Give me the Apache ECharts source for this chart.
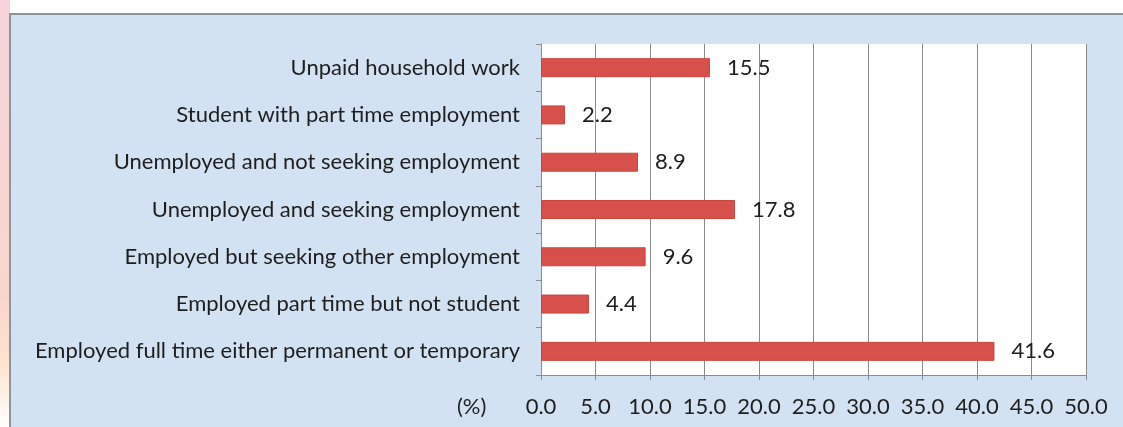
<!DOCTYPE html>
<html>
<head>
<meta charset="utf-8">
<script src="https://cdn.jsdelivr.net/npm/echarts@6/dist/echarts.min.js"></script>
<style>
  html, body { margin: 0; padding: 0; background: #ffffff; }
  #chart { width: 1123px; height: 427px; }
</style>
</head>
<body>
<div id="chart"></div>
<script>
// Employment status categories, listed top to bottom
const categories = [
  'Unpaid household work',
  'Student with part time employment',
  'Unemployed and not seeking employment',
  'Unemployed and seeking employment',
  'Employed but seeking other employment',
  'Employed part time but not student',
  'Employed full time either permanent or temporary'
];
// Share of respondents (%)
const shares = [15.5, 2.2, 8.9, 17.8, 9.6, 4.4, 41.6];
const axisUnit = '(%)';

const FONT = 'Lato, "Open Sans", sans-serif';
const SIZE = 22;
const chart = echarts.init(document.getElementById('chart'));

chart.setOption({
  backgroundColor: '#ffffff',
  animation: false,
  graphic: [
    // soft tinted strip on the far left
    {
      type: 'rect', left: 0, top: 0, z: -10, silent: true,
      shape: { width: 10, height: 427 },
      style: {
        fill: new echarts.graphic.LinearGradient(0, 0, 0, 1, [
          { offset: 0, color: '#f6d3da' },
          { offset: 0.7, color: '#f9d6cc' },
          { offset: 0.85, color: '#fde3cf' },
          { offset: 1, color: '#ffffff' }
        ])
      }
    },
    // light blue chart panel
    {
      type: 'rect', left: 9, top: 13, z: -9, silent: true,
      shape: { width: 1130, height: 430 },
      style: { fill: '#d3e2f2', stroke: '#8f949a', lineWidth: 2 }
    },
    {
      type: 'text', left: 457, top: 396, silent: true,
      style: { text: axisUnit, font: SIZE + 'px ' + FONT, fill: '#1e1e1e' }
    }
  ],
  grid: {
    left: 541, right: 37, top: 44, bottom: 52,
    show: true, backgroundColor: '#ffffff', borderWidth: 0
  },
  xAxis: {
    type: 'value', min: 0, max: 50, interval: 5,
    axisLine: { show: true, lineStyle: { color: '#8c8c8c', width: 1 } },
    axisTick: { show: true, length: 5, lineStyle: { color: '#8c8c8c' } },
    splitLine: { show: true, lineStyle: { color: '#8c8c8c', width: 1 } },
    axisLabel: {
      margin: 21, color: '#1e1e1e', fontSize: SIZE, fontFamily: FONT,
      formatter: v => v.toFixed(1)
    }
  },
  yAxis: {
    type: 'category', data: categories, inverse: true,
    axisLine: { show: true, lineStyle: { color: '#8c8c8c', width: 1 } },
    axisTick: { show: true, length: 5, lineStyle: { color: '#8c8c8c' } },
    axisLabel: { margin: 21, color: '#1e1e1e', fontSize: SIZE, fontFamily: FONT }
  },
  series: [{
    type: 'bar', data: shares, barWidth: 19,
    itemStyle: { color: '#d8504b', borderColor: '#c9463f', borderWidth: 1 },
    label: {
      show: true, position: 'right', distance: 17,
      color: '#1e1e1e', fontSize: SIZE, fontFamily: FONT,
      formatter: p => p.value.toFixed(1)
    }
  }]
});
</script>
</body>
</html>
